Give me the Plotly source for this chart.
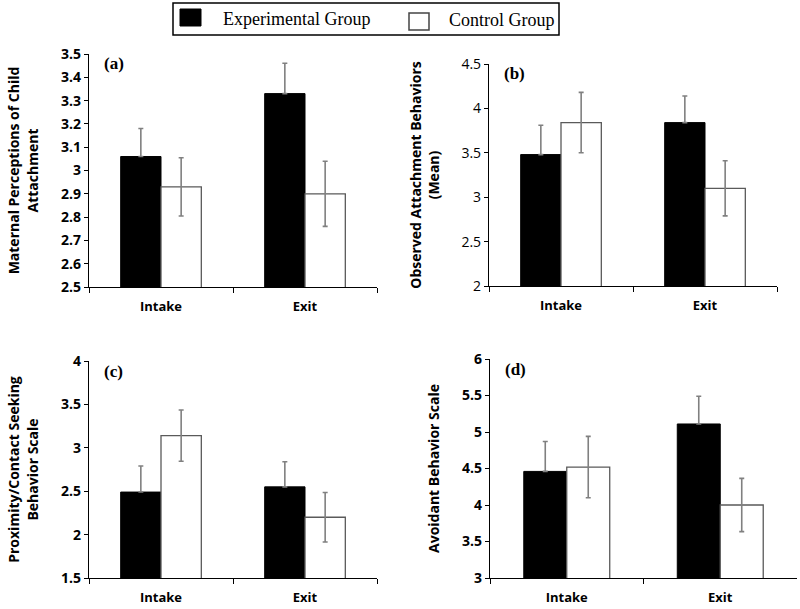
import plotly.graph_objects as go

W, H = 800, 609

categories = ["Intake", "Exit"]
series_names = ["Experimental Group", "Control Group"]
panel_labels = ["(a)", "(b)", "(c)", "(d)"]
y_titles = [
    "Maternal Perceptions of Child<br>Attachment",
    "Observed Attachment Behaviors<br>(Mean)",
    "Proximity/Contact Seeking<br>Behavior Scale",
    "Avoidant Behavior Scale",
]

# (a) Maternal perceptions
a_exp = [3.06, 3.33]
a_exp_err = [0.12, 0.13]
a_ctl = [2.93, 2.90]
a_ctl_err = [0.125, 0.14]
# (b) Observed attachment behaviors
b_exp = [3.48, 3.84]
b_exp_err = [0.33, 0.30]
b_ctl = [3.84, 3.10]
b_ctl_err = [0.34, 0.31]
# (c) Proximity / contact seeking
c_exp = [2.49, 2.55]
c_exp_err = [0.30, 0.29]
c_ctl = [3.14, 2.20]
c_ctl_err = [0.295, 0.285]
# (d) Avoidant behavior
d_exp = [4.46, 5.11]
d_exp_err = [0.41, 0.38]
d_ctl = [4.52, 4.00]
d_ctl_err = [0.42, 0.365]

y_ranges = [[2.5, 3.5], [2, 4.5], [1.5, 4], [3, 6]]
y_dticks = [0.1, 0.5, 0.5, 0.5]

panels = [
    (a_exp, a_exp_err, a_ctl, a_ctl_err),
    (b_exp, b_exp_err, b_ctl, b_ctl_err),
    (c_exp, c_exp_err, c_ctl, c_ctl_err),
    (d_exp, d_exp_err, d_ctl, d_ctl_err),
]

# pixel boxes of plot areas: (x0, x1, ytop, ybottom)
boxes = [(89, 377, 54, 287), (489, 777, 64, 286), (89, 377, 361, 578), (490, 797, 359, 578)]
title_standoffs = [19, 18, 19, 19]


def px(x):
    return x / W


def py(y):
    return 1 - y / H


fig = go.Figure()
ERR_COLOR = "#808080"
for i, (e, ee, c, ce) in enumerate(panels):
    xa = "x" if i == 0 else f"x{i+1}"
    ya = "y" if i == 0 else f"y{i+1}"
    fig.add_trace(go.Bar(
        x=categories, y=e, name=series_names[0], xaxis=xa, yaxis=ya,
        marker=dict(color="black", line=dict(color="black", width=1)),
        error_y=dict(type="data", array=ee, arrayminus=[0] * len(ee), symmetric=False,
                     color=ERR_COLOR, thickness=1.6, width=2.5),
        showlegend=False, hoverinfo="skip",
    ))
    fig.add_trace(go.Bar(
        x=categories, y=c, name=series_names[1], xaxis=xa, yaxis=ya,
        marker=dict(color="white", line=dict(color="#5a5a5a", width=1.3)),
        error_y=dict(type="data", array=ce, color=ERR_COLOR, thickness=1.6, width=2.5),
        showlegend=False, hoverinfo="skip",
    ))

layout = dict(
    width=W, height=H, margin=dict(l=0, r=0, t=0, b=0, autoexpand=False),
    plot_bgcolor="white", paper_bgcolor="white",
    barmode="group", bargap=0.44, bargroupgap=0,
    font=dict(family="Open Sans", color="black"),
)
annotations = []
shapes = []
for i, (x0, x1, yt, yb) in enumerate(boxes):
    sx = "" if i == 0 else str(i + 1)
    tickfont = dict(family="Open Sans", size=14, color="black", weight="bold")
    if i == 1:
        tickfont = dict(family="Open Sans", size=14, color="black")
    layout["xaxis" + sx] = dict(
        domain=[px(x0), px(x1)], anchor="y" + sx, type="category", automargin=False,
        showline=True, linecolor="black", linewidth=1.2,
        ticks="outside", tickson="boundaries", ticklen=5, tickcolor="black",
        ticklabelstandoff=7,
        tickfont=dict(family="Open Sans", size=13, color="black", weight="bold"),
        showgrid=False, zeroline=False,
    )
    layout["yaxis" + sx] = dict(
        domain=[py(yb), py(yt)], anchor="x" + sx, range=y_ranges[i], automargin=False,
        dtick=y_dticks[i], tick0=y_ranges[i][0],
        showline=True, linecolor="black", linewidth=1.2,
        ticks="outside", ticklen=4, tickcolor="black",
        tickfont=tickfont, showgrid=False, zeroline=False,
        title=dict(text=y_titles[i], standoff=title_standoffs[i],
                   font=dict(family="Open Sans", size=14, color="black", weight="bold")),
    )
    annotations.append(dict(
        text=panel_labels[i], xref="paper", yref="paper",
        x=px(x0 + 25), y=py(yt + 10), xanchor="center", yanchor="middle",
        showarrow=False,
        font=dict(family="Liberation Serif", size=17, color="black", weight="bold"),
    ))

# legend box (manual)
shapes.append(dict(type="rect", xref="paper", yref="paper",
                   x0=px(173), x1=px(559), y0=py(35), y1=py(3),
                   line=dict(color="black", width=1.5), fillcolor="white"))
shapes.append(dict(type="rect", xref="paper", yref="paper",
                   x0=px(180), x1=px(201), y0=py(26), y1=py(9),
                   line=dict(color="black", width=1), fillcolor="black"))
shapes.append(dict(type="rect", xref="paper", yref="paper",
                   x0=px(409), x1=px(429), y0=py(30), y1=py(13),
                   line=dict(color="#444444", width=1.5), fillcolor="white"))
annotations.append(dict(text=series_names[0], xref="paper", yref="paper",
                        x=px(221), y=py(19), xanchor="left", yanchor="middle", showarrow=False,
                        font=dict(family="Liberation Serif", size=18, color="black")))
annotations.append(dict(text=series_names[1], xref="paper", yref="paper",
                        x=px(447), y=py(20), xanchor="left", yanchor="middle", showarrow=False,
                        font=dict(family="Liberation Serif", size=18, color="black")))

layout["annotations"] = annotations
layout["shapes"] = shapes
fig.update_layout(**layout)
fig.write_html("out.html", config={"displayModeBar": False},
               post_script="document.body.style.margin='0';document.body.style.overflow='hidden';")
